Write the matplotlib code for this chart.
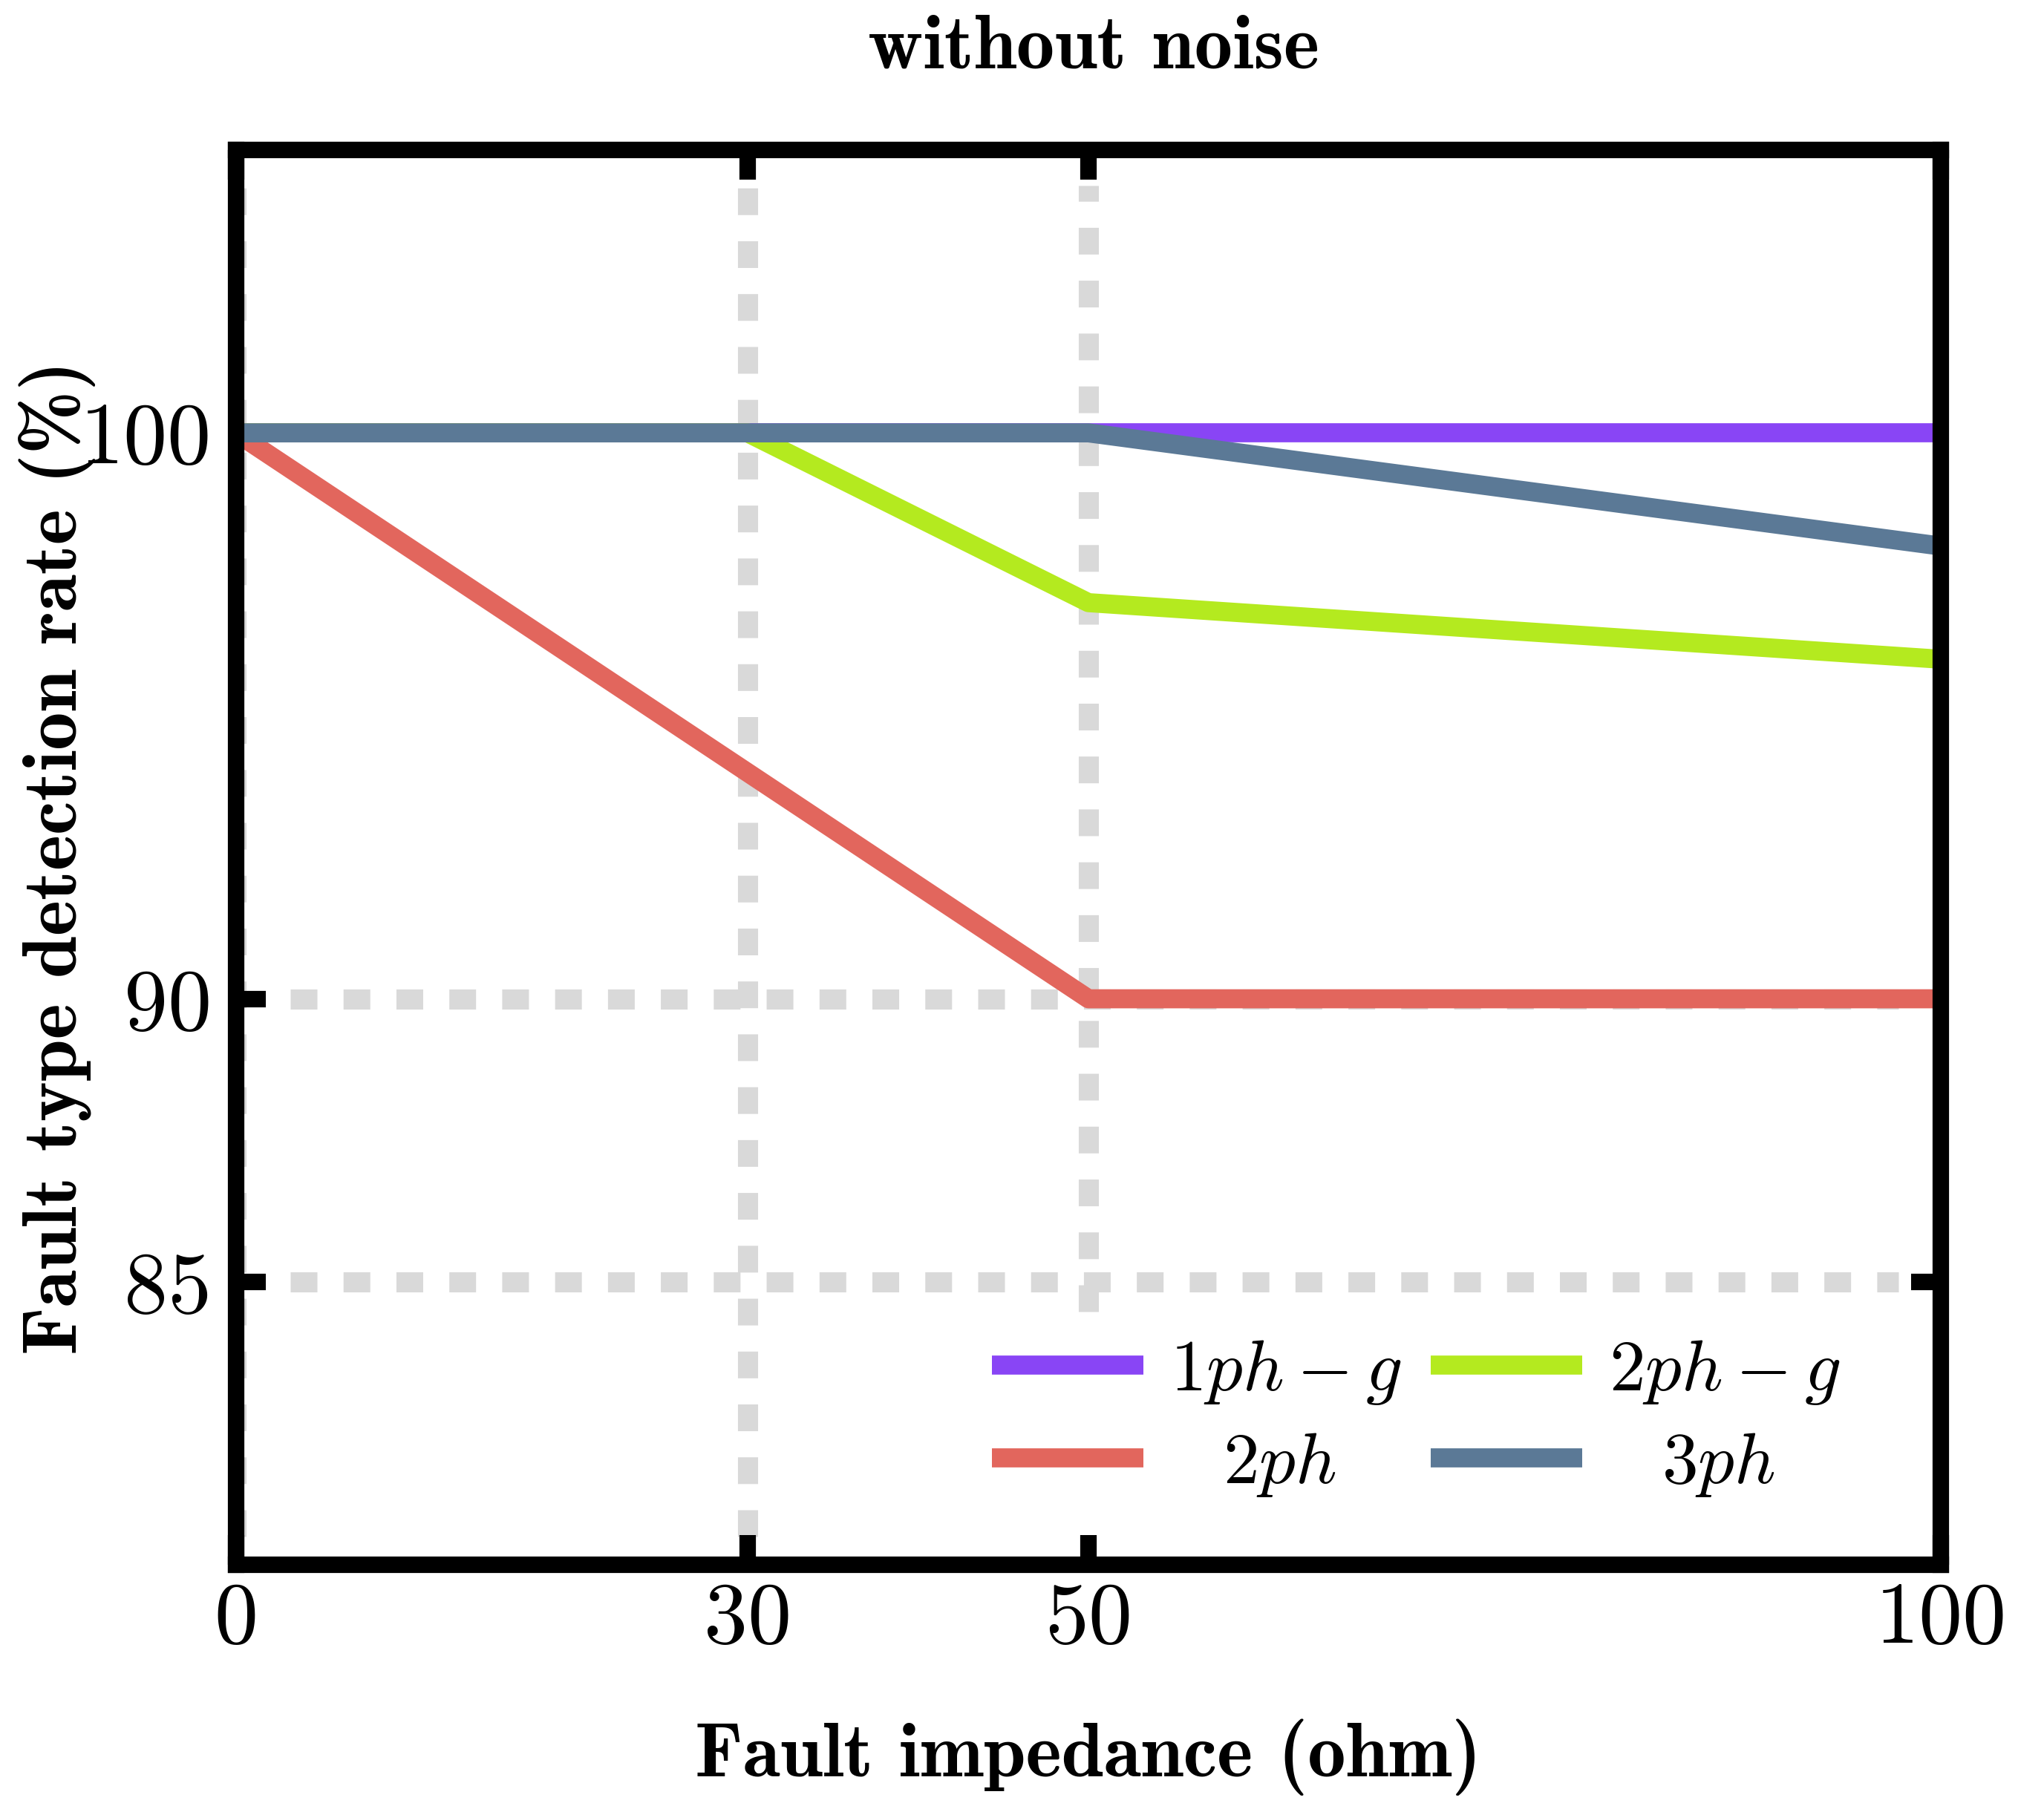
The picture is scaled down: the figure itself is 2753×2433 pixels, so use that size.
import numpy as np
import matplotlib
matplotlib.use('Agg')
import matplotlib.pyplot as plt

plt.rcParams['mathtext.fontset'] = 'cm'
plt.rcParams['axes.unicode_minus'] = False

# data
impedance = [0, 30, 50, 100]
rate_1phg = [100, 100, 100, 100]
rate_2ph = [100, 94, 90, 90]
rate_2phg = [100, 100, 97, 96]
rate_3ph = [100, 100, 100, 98]

x_ticks = [0, 30, 50, 100]
y_ticks = [85, 90, 100]

c_1phg = '#8945f5'
c_2ph = '#e2665d'
c_2phg = '#b4ea1f'
c_3ph = '#5b7996'
c_grid = '#d9d9d9'

fig = plt.figure(figsize=(27.53, 24.33), dpi=100)
ax = fig.add_axes([0.1155, 0.1336, 0.834, 0.7834])

# grid lines (only at inner ticks, like the original)
dash = (0, (1.33, 1.3))
glw = 19.5
ax.axvline(0, ymin=0.02, ymax=0.975, color=c_grid, lw=glw, ls=dash, zorder=1)
ax.axvline(30, ymin=0.02, ymax=0.975, color=c_grid, lw=glw, ls=dash, zorder=1)
ax.axvline(50, ymin=0.179, ymax=0.975, color=c_grid, lw=glw, ls=dash, zorder=1)
for yv in [85, 90]:
    ax.axhline(yv, xmin=0.032, xmax=0.975, color=c_grid, lw=glw, ls=dash, zorder=1)

lw = 18.5
ax.plot(impedance, rate_1phg, color=c_1phg, lw=lw, solid_capstyle='butt', label=r'$1ph-g$', zorder=3)
ax.plot(impedance, rate_2ph, color=c_2ph, lw=lw, solid_capstyle='butt', label=r'$\enspace\ 2ph$', zorder=3)
ax.plot(impedance, rate_2phg, color=c_2phg, lw=lw, solid_capstyle='butt', label=r'$2ph-g$', zorder=3)
ax.plot(impedance, rate_3ph, color=c_3ph, lw=lw, solid_capstyle='butt', label=r'$\enspace\ 3ph$', zorder=4)

ax.set_xlim(0, 100)
ax.set_ylim(80, 105)
ax.set_xticks(x_ticks)
ax.set_yticks(y_ticks)

for s in ax.spines.values():
    s.set_linewidth(16)
    s.set_zorder(5)

ax.tick_params(direction='in', length=29, width=16, top=True, right=True,
               labelsize=85)
ax.tick_params(axis='y', pad=24)
ax.tick_params(axis='x', pad=17)
for lab in ax.get_xticklabels() + ax.get_yticklabels():
    lab.set_fontfamily('cmr10')

ax.set_xlabel('Fault impedance (ohm)', fontfamily='cmb10', fontsize=74)
ax.set_ylabel('Fault type detection rate (%)', fontfamily='cmb10', fontsize=74)
ax.xaxis.label.set_va('center')
ax.yaxis.label.set_va('center')
ax.xaxis.set_label_coords(0.5, -0.136)
ax.yaxis.set_label_coords(-0.105, 0.5)

fig.text(0.535, 0.973, 'without noise', fontfamily='cmb10', fontsize=74,
         ha='center', va='center')

leg = ax.legend(ncol=2, loc='lower right', bbox_to_anchor=(0.979, 0.001),
                frameon=False, fontsize=70, handlelength=2.1,
                handletextpad=0.37, columnspacing=0.4, labelspacing=0.3)
for h in leg.get_lines():
    h.set_linewidth(lw)
    h.set_solid_capstyle('butt')

fig.savefig('out.png', dpi=100)
